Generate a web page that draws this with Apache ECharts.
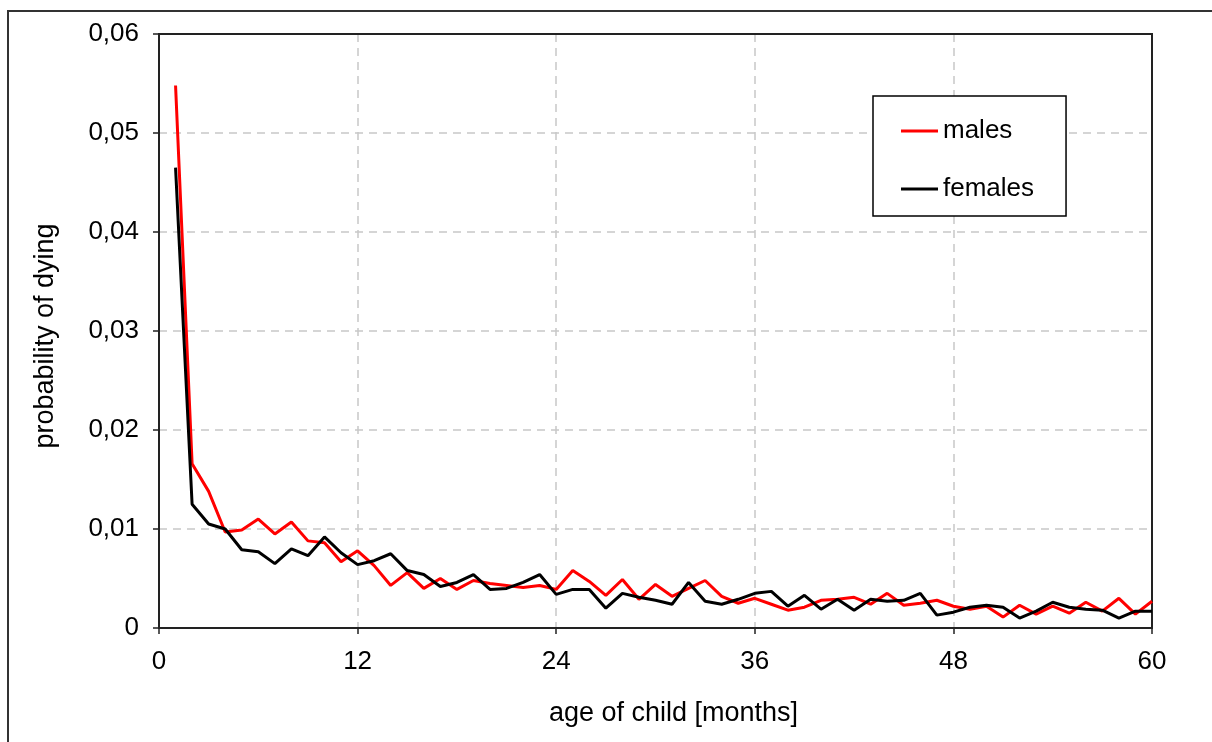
<!DOCTYPE html>
<html>
<head>
<meta charset="utf-8">
<script src="https://cdn.jsdelivr.net/npm/echarts@6/dist/echarts.min.js"></script>
<style>
  html, body { margin: 0; padding: 0; background: #fff; }
  #chart { width: 1212px; height: 742px; }
</style>
</head>
<body>
<div id="chart"></div>
<script>
// age in months, 1..60
const months = [];
for (let m = 1; m <= 60; m++) months.push(m);

const males = [
  0.0548, 0.0166, 0.0138, 0.0097, 0.0099, 0.0110, 0.0095, 0.0107, 0.0088, 0.0086,
  0.0067, 0.0078, 0.0063, 0.0043, 0.0056, 0.0040, 0.0050, 0.0039, 0.0048, 0.0045,
  0.0043, 0.0041, 0.0043, 0.0039, 0.0058, 0.0047, 0.0033, 0.0049, 0.0029, 0.0044,
  0.0032, 0.0040, 0.0048, 0.0032, 0.0025, 0.0030, 0.0024, 0.0018, 0.0021, 0.0028,
  0.0029, 0.0031, 0.0024, 0.0035, 0.0023, 0.0025, 0.0028, 0.0022, 0.0019, 0.0022,
  0.0011, 0.0023, 0.0014, 0.0022, 0.0015, 0.0026, 0.0017, 0.0030, 0.0014, 0.0027
];

const females = [
  0.0465, 0.0125, 0.0105, 0.0100, 0.0079, 0.0077, 0.0065, 0.0080, 0.0073, 0.0092,
  0.0076, 0.0064, 0.0068, 0.0075, 0.0058, 0.0054, 0.0042, 0.0046, 0.0054, 0.0039,
  0.0040, 0.0046, 0.0054, 0.0034, 0.0039, 0.0039, 0.0020, 0.0035, 0.0031, 0.0028,
  0.0024, 0.0046, 0.0027, 0.0024, 0.0029, 0.0035, 0.0037, 0.0022, 0.0033, 0.0019,
  0.0029, 0.0018, 0.0029, 0.0027, 0.0028, 0.0035, 0.0013, 0.0016, 0.0021, 0.0023,
  0.0021, 0.0010, 0.0017, 0.0026, 0.0021, 0.0019, 0.0018, 0.0010, 0.0017, 0.0017
];

const xTicks = [0, 12, 24, 36, 48, 60];
const yTicks = [0, 0.01, 0.02, 0.03, 0.04, 0.05, 0.06];

const font = "'Liberation Sans', Arial, sans-serif";

// plot area in pixels
const plot = { left: 159, top: 34, right: 1152, bottom: 628 };

const chart = echarts.init(document.getElementById('chart'));

const option = {
  animation: false,
  backgroundColor: '#fff',
  textStyle: { fontFamily: font, color: '#000' },
  graphic: [
    {
      // outer chart frame
      type: 'rect',
      shape: { x: 8, y: 11, width: 1300, height: 800 },
      style: { fill: 'none', stroke: '#333', lineWidth: 2 },
      z: -10
    },
    {
      // plot area frame, on top of the dashed grid
      type: 'rect',
      shape: { x: plot.left, y: plot.top, width: plot.right - plot.left, height: plot.bottom - plot.top },
      style: { fill: 'none', stroke: '#222', lineWidth: 2 },
      z: 1
    }
  ],
  grid: {
    left: plot.left, top: plot.top, right: 1212 - plot.right, bottom: 742 - plot.bottom
  },
  legend: {
    orient: 'vertical',
    left: 873, top: 96,
    backgroundColor: '#fff',
    borderColor: '#000', borderWidth: 1.5,
    padding: [22, 32, 14, 28],
    itemGap: 32,
    itemWidth: 37, itemHeight: 3,
    icon: 'rect',
    textStyle: { fontFamily: font, fontSize: 26, lineHeight: 26, color: '#000', padding: [0, 0, 0, 0] },
    data: ['males', 'females']
  },
  xAxis: {
    type: 'value',
    min: xTicks[0], max: xTicks[xTicks.length - 1], interval: 12,
    name: 'age of child [months]',
    nameLocation: 'middle', nameGap: 72,
    nameTextStyle: { fontFamily: font, fontSize: 27, color: '#000', padding: [0, 0, 0, 36] },
    axisLine: { lineStyle: { color: '#222', width: 2 } },
    axisTick: { show: true, inside: false, length: 6, lineStyle: { color: '#222', width: 1.5 } },
    axisLabel: { fontFamily: font, fontSize: 26, color: '#000', margin: 21 },
    splitLine: { show: true, lineStyle: { color: '#c8c8c8', width: 1.5, type: [8, 6] } }
  },
  yAxis: {
    type: 'value',
    min: yTicks[0], max: yTicks[yTicks.length - 1], interval: 0.01,
    name: 'probability of dying',
    nameLocation: 'middle', nameGap: 100,
    nameTextStyle: { fontFamily: font, fontSize: 27, color: '#000', padding: [0, 10, 0, 0] },
    axisLine: { show: true, lineStyle: { color: '#222', width: 2 } },
    axisTick: { show: true, inside: false, length: 6, lineStyle: { color: '#222', width: 1.5 } },
    axisLabel: {
      fontFamily: font, fontSize: 26, color: '#000', margin: 20,
      formatter: v => v === 0 ? '0' : v.toFixed(2).replace('.', ',')
    },
    splitLine: { show: true, lineStyle: { color: '#c8c8c8', width: 1.5, type: [8, 6] } }
  },
  series: [
    {
      name: 'males', type: 'line',
      data: months.map((m, i) => [m, males[i]]),
      showSymbol: false, symbol: 'none',
      lineStyle: { color: '#ff0000', width: 3 },
      itemStyle: { color: '#ff0000' },
      z: 2
    },
    {
      name: 'females', type: 'line',
      data: months.map((m, i) => [m, females[i]]),
      showSymbol: false, symbol: 'none',
      lineStyle: { color: '#000', width: 3 },
      itemStyle: { color: '#000' },
      z: 3
    }
  ]
};

chart.setOption(option);
</script>
</body>
</html>
